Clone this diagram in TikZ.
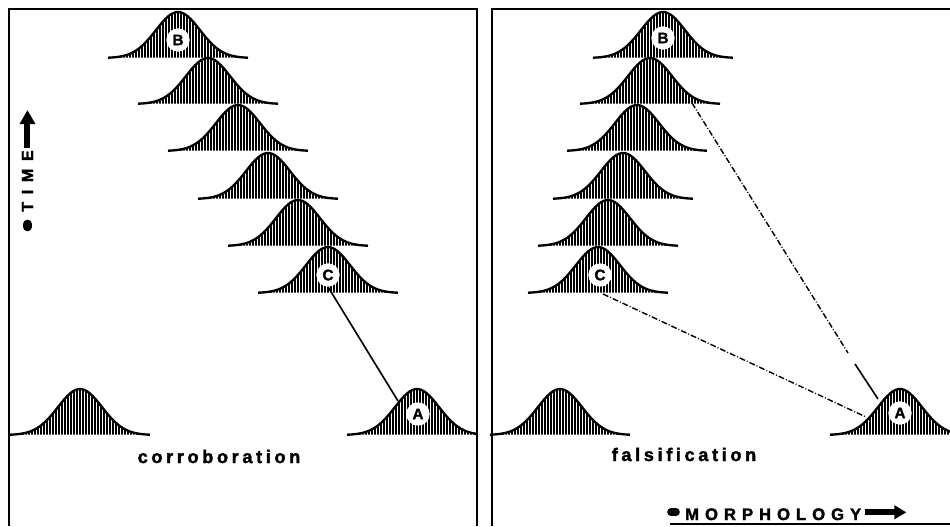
\documentclass[tikz,border=0pt]{standalone}
\usepackage{fontspec}
\setmainfont{Liberation Sans}
\usetikzlibrary{arrows.meta}

\begin{document}
\begin{tikzpicture}[
  x=0.03cm, y=-0.03cm,
  panel/.style={line width=1.2pt},
  curve/.style={line width=2pt, line join=round},
  hatch/.style={line width=0.95pt},
  tag/.style={circle, fill=white, inner sep=0pt, minimum size=0.7cm,
              font=\fontsize{13}{13}\selectfont\bfseries\addfontfeatures{FakeBold=1.5}},
  caption/.style={inner sep=0pt, anchor=base,
                  font=\fontsize{15.5}{16}\selectfont\bfseries\addfontfeatures{LetterSpace=20,FakeBold=2}},
  timelabel/.style={inner sep=0pt, rotate=90, anchor=base west,
                  font=\fontsize{13.7}{14}\selectfont\bfseries\addfontfeatures{LetterSpace=48,FakeBold=2}},
  morphlabel/.style={inner sep=0pt, anchor=base west,
                  font=\fontsize{14.2}{15}\selectfont\bfseries\addfontfeatures{LetterSpace=36,FakeBold=2}},
  axdot/.style={line cap=round},
  link/.style={line width=1.4pt},
  dashlink/.style={line width=1.2pt, dash pattern=on 5pt off 1.7pt on 0.8pt off 1.7pt}
]
\useasboundingbox (0,0) rectangle (950,526);

% panel frames
\draw[panel] (9,526) -- (9,9) -- (477,9) -- (477,526);
\draw[panel] (492,526) -- (492,9) -- (950,9);
\draw[panel] (670,524) -- (950,524);

% left panel: corroboration
\begin{scope}
  \clip (9,9) rectangle (477,526);
  \foreach \cx/\by in {178/58, 208/104, 238/151, 268/199, 298/246, 328/293,
                       80/435, 417/435}{
    \begin{scope}
      \clip plot[domain=-70:70, samples=50] ({\cx+\x},{\by-46*exp(-((\x)*(\x))/968)}) -- cycle;
      \foreach \u in {-69,-66,...,69}
        \draw[hatch] ({\cx+\u},\by) -- ++(0,-50);
    \end{scope}
    \draw[curve] plot[domain=-70:70, samples=50, smooth] ({\cx+\x},{\by-46*exp(-((\x)*(\x))/968)});
  }
\end{scope}

% right panel: falsification
\foreach \cx/\by in {663/58, 650/104, 637/151, 623/199, 608/246, 598/293,
                     560/435, 900/435}{
  \begin{scope}
    \clip plot[domain=-70:70, samples=50] ({\cx+\x},{\by-46*exp(-((\x)*(\x))/968)}) -- cycle;
    \foreach \u in {-69,-66,...,69}
      \draw[hatch] ({\cx+\u},\by) -- ++(0,-50);
  \end{scope}
  \draw[curve] plot[domain=-70:70, samples=50, smooth] ({\cx+\x},{\by-46*exp(-((\x)*(\x))/968)});
}

% species labels
\node[tag] (Bl) at (178,40)  {B};
\node[tag] (Cl) at (328,275) {C};
\node[tag] (Al) at (418,414) {A};
\node[tag] (Br) at (663,38)  {B};
\node[tag] (Cr) at (600,275) {C};
\node[tag] (Ar) at (900,413) {A};

% lineages
\coordinate (AlEdge) at (398,401);
\draw[link] (Cl.south) -- (AlEdge);

\coordinate (Bflank) at (692,103);
\coordinate (gapTop) at (848,353);
\coordinate (gapEnd) at (855,364);
\coordinate (ArTop)  at (878,399);
\coordinate (Cfoot)  at (603,294);
\coordinate (ArEdge) at (866,417);
\draw[dashlink] (Bflank) -- (gapTop);
\draw[link] (gapEnd) -- (ArTop);
\draw[dashlink] (Cfoot) -- (ArEdge);

% captions
\node[caption] (corr) at (219,463) {corroboration};
\node[caption] (fals) at (684,461) {falsification};

% axes
\node[timelabel] (time) at (33,212) {TIME};
\draw[axdot, line width=0.26cm] (time.west) ++(0,12) -- ++(0,3);
\draw[-{Triangle[length=0.42cm,width=0.45cm]}, line width=0.18cm] (time.east) ++(0,-2) -- ++(0,-38);

\node[morphlabel] (morph) at (685,520) {MORPHOLOGY};
\draw[axdot, line width=0.23cm] (morph.west) ++(-9,-2) -- ++(-5,0);
\draw[-{Triangle[length=0.36cm,width=0.4cm]}, line width=0.17cm] (morph.east) ++(4,-2) -- ++(41,0);

\end{tikzpicture}
\end{document}
